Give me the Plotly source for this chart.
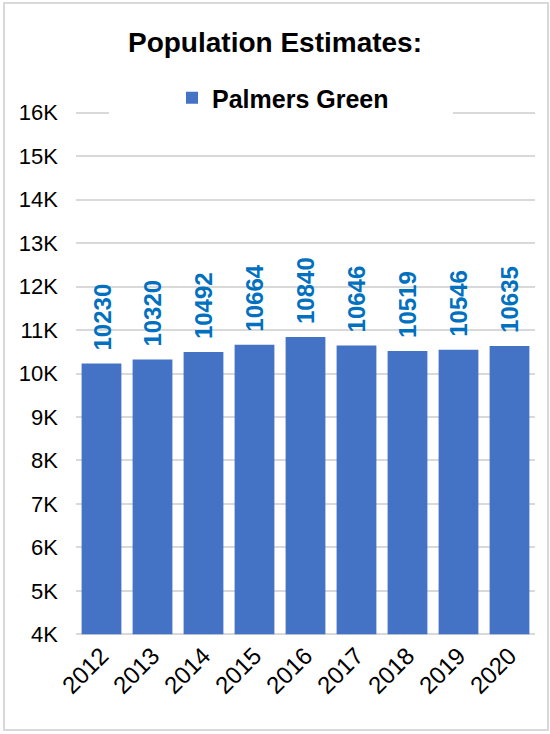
import plotly.graph_objects as go

years = ["2012", "2013", "2014", "2015", "2016", "2017", "2018", "2019", "2020"]
population = [10230, 10320, 10492, 10664, 10840, 10646, 10519, 10546, 10635]
series_name = "Palmers Green"
title_text = "Population Estimates:"
y_tick_vals = [4000, 5000, 6000, 7000, 8000, 9000, 10000, 11000, 12000, 13000, 14000, 15000, 16000]
y_tick_text = ["4K", "5K", "6K", "7K", "8K", "9K", "10K", "11K", "12K", "13K", "14K", "15K", "16K"]
axis_base = 4000

W, H = 550, 734
L, R, T, B = 76, 15, 111, 98
pw, ph = W - L - R, H - T - B

def px(x):
    return (x - L) / pw

def py(y):
    return (H - B - y) / ph

FONT = "Liberation Sans, Arial, sans-serif"

fig = go.Figure()
fig.add_trace(go.Bar(
    x=years, y=[v - axis_base for v in population], base=axis_base, name=series_name,
    customdata=population, hovertemplate="%{x}: %{customdata}<extra></extra>",
    marker=dict(color="#4472C4", line=dict(width=0)),
))

for i, v in enumerate(population):
    fig.add_annotation(x=i, y=v, xref="x", yref="y", text="<b>%d</b>" % v,
                       showarrow=False, textangle=-90, yanchor="bottom", xanchor="center",
                       yshift=11, font=dict(family=FONT, size=24, color="#0070C0"))

fig.update_layout(
    width=W, height=H,
    margin=dict(l=L, r=R, t=T, b=B, autoexpand=False),
    paper_bgcolor="white", plot_bgcolor="white",
    bargap=0.22,
    showlegend=True,
    title=dict(text="<b>" + title_text + "</b>", x=0.5, xref="container", xanchor="center",
               y=1 - 42 / H, yanchor="middle",
               font=dict(family=FONT, size=28, color="#000000")),
    legend=dict(orientation="h", x=px(283), xanchor="center", y=py(98), yanchor="middle",
                bgcolor="rgba(0,0,0,0)", font=dict(family=FONT, size=25, color="#000000", weight="bold"),
                itemwidth=30),
    xaxis=dict(type="category", range=[-0.5, len(years) - 0.5], showgrid=False, showline=False,
               ticks="", tickangle=-45, automargin=False,
               tickfont=dict(family=FONT, size=24, color="#000000")),
    yaxis=dict(range=[3960, 16040], tickvals=y_tick_vals, ticktext=y_tick_text,
               showgrid=True, gridcolor="#D9D9D9", gridwidth=1.5, zeroline=False,
               showline=False, ticks="", ticklabelstandoff=17, automargin=False,
               tickfont=dict(family=FONT, size=22, color="#000000")),
    shapes=[
        dict(type="rect", xref="paper", yref="paper", x0=px(4), x1=px(548), y0=py(730), y1=py(3),
             line=dict(color="#D9D9D9", width=2), fillcolor="rgba(0,0,0,0)", layer="below"),
        dict(type="rect", xref="paper", yref="paper", x0=px(109), x1=px(453), y0=py(118), y1=py(105),
             line=dict(width=0), fillcolor="white", layer="above"),
    ],
)

fig.write_html("out.html", config={"displayModeBar": False},
               post_script="document.body.style.margin='0';")
